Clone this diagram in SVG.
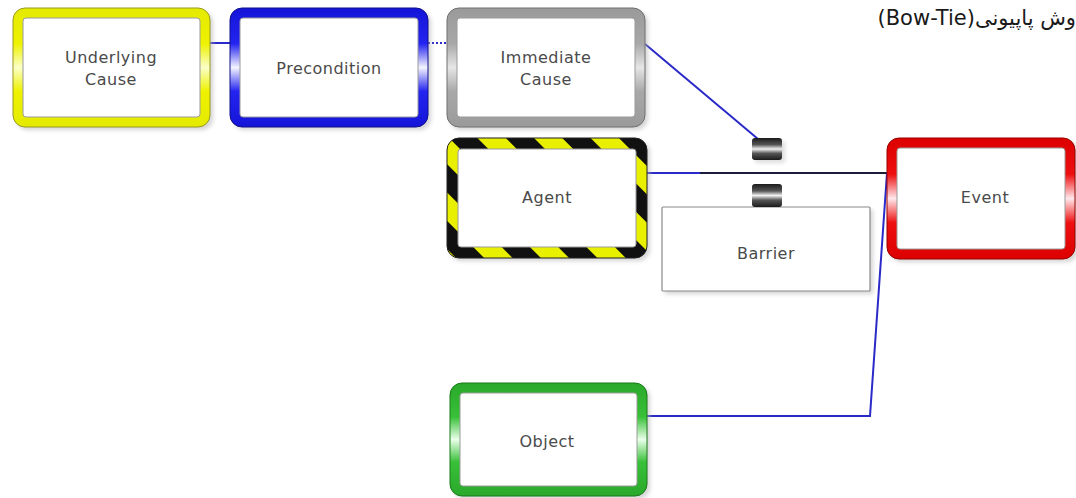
<svg xmlns="http://www.w3.org/2000/svg" width="1076" height="498" viewBox="0 0 1076 498">
<style>
.lbl{font-family:"DejaVu Sans","Liberation Sans",sans-serif;font-size:16px;letter-spacing:0.5px;fill:#4a4a4a;text-anchor:middle}
.inner{fill:#fff;stroke:#9a9a9a;stroke-width:1}
.shadow{fill:#b0b0b0;opacity:0.55}
.conn{fill:none;stroke:#2a2ac8;stroke-width:2}
.title{font-family:"DejaVu Sans","Noto Sans",sans-serif;font-size:21px;fill:#1a1a1a}
</style>
<defs>
<filter id="blur" x="-10%" y="-10%" width="120%" height="120%"><feGaussianBlur stdDeviation="2"/></filter>
<linearGradient id="gY" x1="0" y1="0" x2="0" y2="1">
<stop offset="0" stop-color="#e4ea00"/><stop offset="0.3" stop-color="#eef200"/><stop offset="0.5" stop-color="#fbffc8"/><stop offset="0.7" stop-color="#eef200"/><stop offset="1" stop-color="#e4ea00"/>
</linearGradient>
<linearGradient id="gB" x1="0" y1="0" x2="0" y2="1">
<stop offset="0" stop-color="#1414d8"/><stop offset="0.3" stop-color="#2424f0"/><stop offset="0.5" stop-color="#f4f4ff"/><stop offset="0.7" stop-color="#2424f0"/><stop offset="1" stop-color="#1414d8"/>
</linearGradient>
<linearGradient id="gG" x1="0" y1="0" x2="0" y2="1">
<stop offset="0" stop-color="#9a9a9a"/><stop offset="0.3" stop-color="#a8a8a8"/><stop offset="0.5" stop-color="#e6e6e6"/><stop offset="0.7" stop-color="#a8a8a8"/><stop offset="1" stop-color="#9a9a9a"/>
</linearGradient>
<linearGradient id="gR" x1="0" y1="0" x2="0" y2="1">
<stop offset="0" stop-color="#dc0000"/><stop offset="0.3" stop-color="#ee1010"/><stop offset="0.5" stop-color="#ffe8ec"/><stop offset="0.7" stop-color="#ee1010"/><stop offset="1" stop-color="#dc0000"/>
</linearGradient>
<linearGradient id="gN" x1="0" y1="0" x2="0" y2="1">
<stop offset="0" stop-color="#2aa82a"/><stop offset="0.3" stop-color="#38c038"/><stop offset="0.5" stop-color="#eaffea"/><stop offset="0.7" stop-color="#38c038"/><stop offset="1" stop-color="#2aa82a"/>
</linearGradient>
<linearGradient id="gIcon" x1="0" y1="0" x2="0" y2="1">
<stop offset="0" stop-color="#1a1a1a"/><stop offset="0.3" stop-color="#555"/><stop offset="0.5" stop-color="#f2f2f2"/><stop offset="0.7" stop-color="#555"/><stop offset="1" stop-color="#1a1a1a"/>
</linearGradient>
<pattern id="hazard" patternUnits="userSpaceOnUse" width="40" height="40" patternTransform="rotate(-45)">
<rect x="0" y="0" width="40" height="40" fill="#111"/>
<rect x="0" y="0" width="20" height="40" fill="#e8f000"/>
</pattern>
</defs>

<text class="title" x="1076" y="25" direction="rtl" text-anchor="start">وش پاپیونی(Bow-Tie)</text>

<g id="connectors">
<line class="conn" x1="210" y1="43" x2="230" y2="43"/>
<line class="conn" x1="428" y1="43" x2="447" y2="43" stroke-dasharray="2 2"/>
<line class="conn" x1="645" y1="44" x2="758" y2="139"/>
<line x1="647" y1="173" x2="887" y2="173" stroke="#1c1c3a" stroke-width="2"/>
<line class="conn" x1="647" y1="173" x2="700" y2="173"/>
<polyline class="conn" points="647,416 870,416 887,173"/>
</g>

<g id="underlying-cause">
<rect class="shadow" x="16" y="11" width="197" height="119" rx="12" filter="url(#blur)"/>
<rect x="13" y="8" width="197" height="119" rx="12" fill="url(#gY)" stroke="#9a9a20" stroke-width="1"/>
<rect class="inner" x="23" y="18" width="177" height="99" rx="3"/>
<text class="lbl" x="111" y="63">Underlying</text>
<text class="lbl" x="111" y="85">Cause</text>
</g>

<g id="precondition">
<rect class="shadow" x="233" y="11" width="198" height="119" rx="12" filter="url(#blur)"/>
<rect x="230" y="8" width="198" height="119" rx="12" fill="url(#gB)" stroke="#10108a" stroke-width="1"/>
<rect class="inner" x="240" y="18" width="178" height="99" rx="3"/>
<text class="lbl" x="329" y="74">Precondition</text>
</g>

<g id="immediate-cause">
<rect class="shadow" x="450" y="11" width="198" height="119" rx="12" filter="url(#blur)"/>
<rect x="447" y="8" width="198" height="119" rx="12" fill="url(#gG)" stroke="#707070" stroke-width="1"/>
<rect class="inner" x="457" y="18" width="178" height="99" rx="3"/>
<text class="lbl" x="546" y="63">Immediate</text>
<text class="lbl" x="546" y="85">Cause</text>
</g>

<g id="agent">
<rect class="shadow" x="450" y="141" width="200" height="120" rx="12" filter="url(#blur)"/>
<rect x="447" y="138" width="200" height="120" rx="12" fill="url(#hazard)" stroke="#222" stroke-width="1"/>
<rect class="inner" x="458" y="149" width="178" height="98" rx="3"/>
<text class="lbl" x="547" y="203">Agent</text>
</g>

<g id="barrier-icon-top">
<rect x="755" y="141" width="30" height="22" rx="3" fill="#c8c8c8" opacity="0.6" filter="url(#blur)"/>
<rect x="752" y="138" width="30" height="22" rx="3" fill="url(#gIcon)"/>
</g>

<g id="barrier">
<rect class="shadow" x="665" y="210" width="208" height="84" filter="url(#blur)"/>
<rect x="662" y="207" width="208" height="84" rx="1" fill="#fff" stroke="#8a8a8a" stroke-width="1.2"/>
<text class="lbl" x="766" y="259">Barrier</text>
<rect x="752" y="184" width="30" height="23" rx="3" fill="url(#gIcon)"/>
</g>

<g id="event">
<rect class="shadow" x="890" y="141" width="188" height="121" rx="12" filter="url(#blur)"/>
<rect x="887" y="138" width="188" height="121" rx="12" fill="url(#gR)" stroke="#900" stroke-width="1"/>
<rect class="inner" x="897" y="148" width="168" height="101" rx="3"/>
<text class="lbl" x="985" y="203">Event</text>
</g>

<g id="object">
<rect class="shadow" x="453" y="386" width="197" height="113" rx="12" filter="url(#blur)"/>
<rect x="450" y="383" width="197" height="113" rx="12" fill="url(#gN)" stroke="#1a7a1a" stroke-width="1"/>
<rect class="inner" x="460" y="393" width="177" height="93" rx="3"/>
<text class="lbl" x="547" y="447">Object</text>
</g>
</svg>
